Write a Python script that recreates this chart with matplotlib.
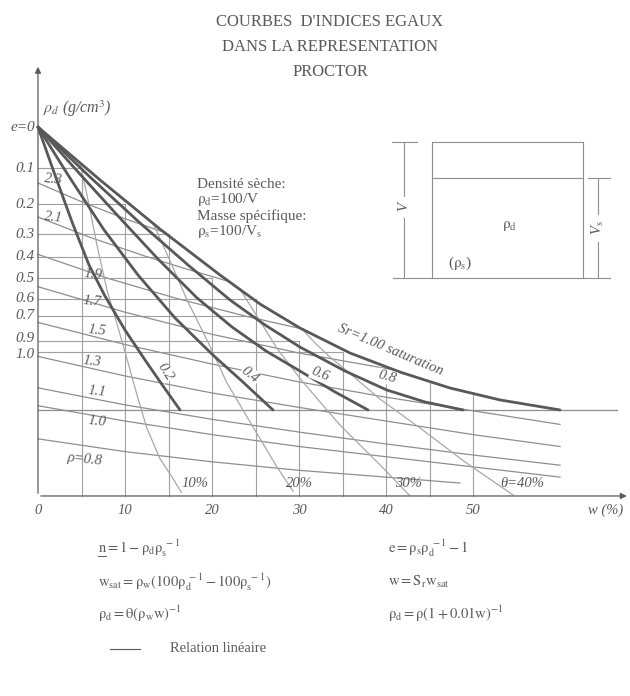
"""
Courbes d'indices egaux dans la representation Proctor (rho_d vs w).
"""

import matplotlib
matplotlib.use("Agg")
import matplotlib.pyplot as plt

plt.rcParams["font.family"] = ["Liberation Serif", "DejaVu Serif"]
plt.rcParams["mathtext.fontset"] = "stix"

INK = "#5a5a5a"
THICK = "#585858"
THIN = "#8e8e8e"
GRID = "#a0a0a0"

# ---- data (w in %, rho_d in g/cm3) ----
W_TICKS = [0, 10, 20, 30, 40, 50]
RHO_AXIS = 0.459          # rho_d level of the w axis
RHO_SAT_END = 0.965       # level where the Sr curves stop

E_LABELS = ["e=0", "0.1", "0.2", "0.3", "0.4", "0.5", "0.6", "0.7", "0.9", "1.0"]
E_RHO = [2.629, 2.388, 2.176, 2.0, 1.865, 1.741, 1.618, 1.518, 1.371, 1.306]
E_LABEL_RHO = [2.629, 2.388, 2.176, 2.0, 1.865, 1.741, 1.618, 1.518, 1.385, 1.292]
E_END_W = [5, 10, 15, 15, 20, 25, 25, 30, 35]      # for e = 0.1 ... 1.0

GRID_W = [5, 10, 15, 20, 25, 30, 35, 40, 45, 50]
GRID_TOP = [2.388, 2.176, 2.0, 1.741, 1.618, 1.371, 1.306, 1.22, 1.132, 1.062]

SR02_W = [0, 1.95, 3.91, 5.86, 7.7, 10.0, 12.3, 14.37, 16.32]
SR02_RHO = [2.629, 2.347, 2.071, 1.818, 1.635, 1.435, 1.259, 1.106, 0.965]
SR04_W = [0, 3.68, 7.59, 11.49, 15.75, 20.11, 23.56, 27.01]
SR04_RHO = [2.629, 2.329, 2.024, 1.759, 1.506, 1.288, 1.129, 0.965]
SR06_W = [0, 4.6, 9.2, 13.79, 18.28, 22.3, 26.2, 30.11, 34.14, 37.93]
SR06_RHO = [2.629, 2.365, 2.106, 1.853, 1.624, 1.453, 1.312, 1.194, 1.071, 0.965]
SR08_W = [0, 5.98, 11.72, 17.24, 22.07, 26.09, 30.11, 35.29, 40.11, 44.48, 48.85]
SR08_RHO = [2.629, 2.335, 2.065, 1.818, 1.612, 1.465, 1.335, 1.194, 1.082, 1.012, 0.965]
SR10_W = [0, 7.13, 14.02, 20.92, 25.52, 30.11, 35.86, 41.61, 47.36, 53.1, 60.0]
SR10_RHO = [2.629, 2.318, 2.029, 1.759, 1.588, 1.447, 1.30, 1.188, 1.094, 1.024, 0.965]
SAT_TAIL_W = [60.0, 66.6]

TH10_W = [4.83, 5.75, 6.78, 7.93, 9.2, 10.2, 11.4, 12.5, 14.0, 15.4, 16.5]
TH10_RHO = [2.418, 2.20, 1.935, 1.67, 1.45, 1.27, 1.05, 0.86, 0.68, 0.57, 0.48]
TH20_W = [13.22, 14.37, 15.75, 17.13, 19.43, 21.72, 24.71, 27.47, 29.31]
TH20_RHO = [2.065, 1.935, 1.776, 1.612, 1.376, 1.124, 0.865, 0.629, 0.488]
TH30_W = [23.22, 25.29, 27.59, 30.46, 34.71, 39.66, 42.76]
TH30_RHO = [1.676, 1.506, 1.318, 1.129, 0.876, 0.624, 0.459]
TH40_W = [30.34, 31.84, 33.56, 35.52, 39.31, 43.91, 49.08, 54.6]
TH40_RHO = [1.441, 1.359, 1.276, 1.194, 1.029, 0.859, 0.659, 0.465]

RHO23_W = [0, 5, 10, 14.5]
RHO23 = [2.30, 2.19, 2.09, 2.01]
RHO21_W = [0, 6, 12, 17, 22]
RHO21 = [2.10, 1.98, 1.875, 1.795, 1.72]
RHO19_W = [0, 8, 16, 24, 30.5]
RHO19 = [1.88, 1.74, 1.62, 1.515, 1.44]
RHO17_W = [0, 10, 20, 30, 41]
RHO17 = [1.69, 1.54, 1.41, 1.30, 1.20]
RHO_FULL_W = [0, 10, 20, 30, 40, 50, 60]
RHO15 = [1.48, 1.35, 1.235, 1.13, 1.04, 0.96, 0.88]
RHO13 = [1.28, 1.165, 1.065, 0.98, 0.90, 0.82, 0.75]
RHO11 = [1.095, 0.995, 0.91, 0.835, 0.765, 0.70, 0.64]
RHO10 = [0.99, 0.90, 0.82, 0.75, 0.69, 0.63, 0.57]
RHO08_W = [0, 10, 20, 30, 40, 48.5]
RHO08 = [0.795, 0.72, 0.66, 0.61, 0.57, 0.535]

RHO_LABELS = ["2.3", "2.1", "1.9", "1.7", "1.5", "1.3", "1.1", "1.0", "\u03c1=0.8"]
RHO_LABEL_W = [1.8, 1.8, 6.3, 6.2, 6.8, 6.2, 6.8, 6.8, 5.3]
RHO_LABEL_RHO = [2.318, 2.10, 1.76, 1.606, 1.43, 1.253, 1.076, 0.90, 0.676]

SR_LABELS = ["0.2", "0.4", "0.6", "0.8"]
SR_LABEL_W = [14.6, 24.4, 32.4, 40.1]
SR_LABEL_RHO = [1.19, 1.17, 1.175, 1.159]
SR_LABEL_ROT = [-58, -38, -22, -15]

TH_LABELS = ["10%", "20%", "30%", "\u03b8=40%"]
TH_LABEL_W = [18.0, 30.1, 42.6, 55.7]
TH_LABEL_RHO = [0.53, 0.535, 0.535, 0.535]

# ---- figure: one axes in (w, rho_d), one overlay in pixels ----
fig = plt.figure(figsize=(6.3, 6.96), dpi=100)
ax = fig.add_axes([0, 0, 1, 1])
ax.set_xlim(-4.368, 68.046)
ax.set_ylim(-0.7176, 3.3765)
ax.axis("off")

lay = fig.add_axes([0, 0, 1, 1], zorder=-1)
lay.set_xlim(0, 630)
lay.set_ylim(696, 0)
lay.axis("off")

# grid staircase under the saturation curve
for w, top in zip(GRID_W, GRID_TOP):
    ax.plot([w, w], [RHO_AXIS, top], color=GRID, lw=0.8, zorder=1)
for r, end in zip(E_RHO[1:], E_END_W):
    ax.plot([0, end], [r, r], color=GRID, lw=0.8, zorder=1)
ax.plot([0, SAT_TAIL_W[1]], [RHO_SAT_END, RHO_SAT_END], color=THIN, lw=0.9, zorder=1)

# rho = const curves
for xs, ys in [(RHO23_W, RHO23), (RHO21_W, RHO21), (RHO19_W, RHO19), (RHO17_W, RHO17),
               (RHO_FULL_W, RHO15), (RHO_FULL_W, RHO13), (RHO_FULL_W, RHO11),
               (RHO_FULL_W, RHO10), (RHO08_W, RHO08)]:
    ax.plot(xs, ys, color=THIN, lw=0.9, zorder=2)

# theta = const curves
for xs, ys in [(TH10_W, TH10_RHO), (TH20_W, TH20_RHO), (TH30_W, TH30_RHO), (TH40_W, TH40_RHO)]:
    ax.plot(xs, ys, color="#a8a8a8", lw=0.9, zorder=2)

# Sr = const curves
for xs, ys in [(SR02_W, SR02_RHO), (SR04_W, SR04_RHO), (SR06_W, SR06_RHO),
               (SR08_W, SR08_RHO), (SR10_W, SR10_RHO)]:
    ax.plot(xs, ys, color=THICK, lw=2.0, zorder=3, solid_capstyle="round", solid_joinstyle="round")

# axes with arrows
ax.annotate("", xy=(68.0, RHO_AXIS), xytext=(0, RHO_AXIS),
            arrowprops=dict(arrowstyle="-|>", color=INK, lw=0.9, mutation_scale=9))
ax.annotate("", xy=(0, 3.0), xytext=(0, RHO_AXIS),
            arrowprops=dict(arrowstyle="-|>", color=INK, lw=0.9, mutation_scale=9))

txt = dict(color=INK, style="italic")
for w in W_TICKS:
    ax.text(w, 0.376, str(w), ha="center", va="center", fontsize=10.5, **txt)
ax.text(65.3, 0.376, "w (%)", ha="center", va="center", fontsize=10.5, **txt)
for lab, r in zip(E_LABELS, E_LABEL_RHO):
    ax.text(-0.35, r, lab, ha="right", va="center", fontsize=11, **txt)
ax.text(0.6, 2.735, r"$\rho_d$ (g/cm$^3$)", ha="left", va="center", fontsize=11.5, **txt)

for lab, w, r in zip(RHO_LABELS, RHO_LABEL_W, RHO_LABEL_RHO):
    ax.text(w, r, lab, ha="center", va="center", fontsize=10.5, rotation=-6, zorder=4, **txt)
for lab, w, r, rot in zip(SR_LABELS, SR_LABEL_W, SR_LABEL_RHO, SR_LABEL_ROT):
    ax.text(w, r, lab, ha="center", va="center", fontsize=10.5, rotation=rot, zorder=4,
            bbox=dict(facecolor="white", edgecolor="none", pad=0.5), **txt)
ax.text(40.5, 1.32, "Sr=1.00 saturation", ha="center", va="center", fontsize=10.5,
        rotation=-23, zorder=4, bbox=dict(facecolor="white", edgecolor="none", pad=0.3), **txt)
for lab, w, r in zip(TH_LABELS, TH_LABEL_W, TH_LABEL_RHO):
    ax.text(w, r, lab, ha="center", va="center", fontsize=10.5, zorder=4, **txt)

# title
for y, line in zip([22, 47, 72], ["COURBES  D'INDICES EGAUX", "DANS LA REPRESENTATION", "PROCTOR"]):
    lay.text(330, y, line, ha="center", va="center", fontsize=12, color=INK)

# definitions
defs = ["Densit\u00e9 s\u00e8che:", r"$\mathrm{\rho_d}$=100/V",
        "Masse sp\u00e9cifique:", r"$\mathrm{\rho_s}$=100/V$_\mathrm{s}$"]
for y, line in zip([184, 200, 216, 232], defs):
    lay.text(197, y, line, ha="left", va="center", fontsize=11, color=INK)

# phase box sketch
box_lines = [((392, 417), (142, 142)), ((432, 583), (142, 142)), ((432, 432), (142, 278)),
             ((583, 583), (142, 278)), ((432, 583), (178, 178)), ((588, 610), (178, 178)),
             ((393, 610), (278, 278)), ((404, 404), (142, 196)), ((404, 404), (218, 278)),
             ((598, 598), (178, 214)), ((598, 598), (242, 278))]
for xs, ys in box_lines:
    lay.plot(xs, ys, color=THIN, lw=0.8)
lay.text(404, 207, "V", ha="center", va="center", rotation=90, fontsize=10.5, color=INK, style="italic")
lay.text(598, 228, r"V$_\mathrm{s}$", ha="center", va="center", rotation=90, fontsize=10.5,
         color=INK, style="italic")
lay.text(510, 226, r"$\mathrm{\rho_d}$", ha="center", va="center", fontsize=11, color=INK)
lay.text(460, 263, r"($\mathrm{\rho_s}$)", ha="center", va="center", fontsize=11, color=INK)

# relations
fs = 10.5
lay.text(98, 548, r"$\mathrm{n = 1 - \rho_d\rho_s^{\ -1}}$", ha="left", va="center", fontsize=fs, color=INK)
lay.plot([98, 106], [556, 556], color=INK, lw=0.7)
lay.text(388, 548, r"$\mathrm{e = \rho_s\rho_d^{\ -1} - 1}$", ha="left", va="center", fontsize=fs, color=INK)
lay.text(98, 582, r"$\mathrm{w_{sat} = \rho_w(100\rho_d^{\ -1} - 100\rho_s^{\ -1})}$", ha="left",
         va="center", fontsize=fs, color=INK)
lay.text(388, 582, r"$\mathrm{w = S_r w_{sat}}$", ha="left", va="center", fontsize=fs, color=INK)
lay.text(98, 614, r"$\mathrm{\rho_d = \theta(\rho_w w)^{-1}}$", ha="left", va="center", fontsize=fs, color=INK)
lay.text(388, 614, r"$\mathrm{\rho_d = \rho(1 + 0.01w)^{-1}}$", ha="left", va="center", fontsize=fs, color=INK)
lay.plot([110, 140], [649, 649], color=INK, lw=0.8)
lay.text(170, 649, "Relation lin\u00e9aire", ha="left", va="center", fontsize=fs, color=INK)

fig.savefig("out.png", dpi=100)
